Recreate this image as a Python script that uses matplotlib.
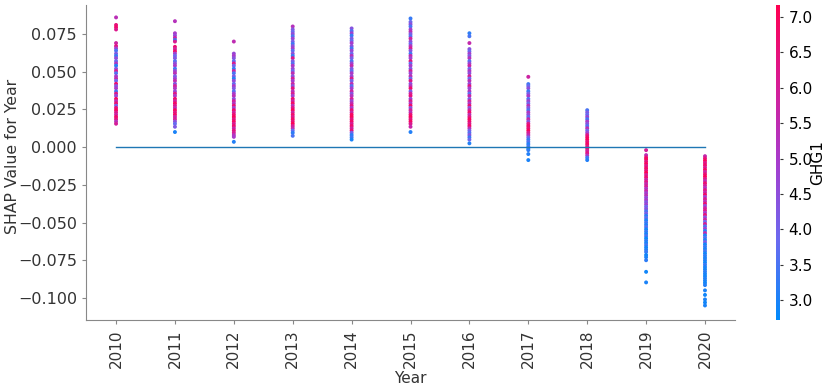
import matplotlib
matplotlib.use("Agg")
import matplotlib.pyplot as plt
from matplotlib.colors import LinearSegmentedColormap

# year, SHAP value and GHG1 value of each point
shap_2010 = [0.086, 0.081, 0.0795, 0.078, 0.069, 0.067, 0.0655, 0.064, 0.062, 0.0605, 0.059, 0.057, 0.0555, 0.054, 0.052,
             0.0505, 0.049, 0.047, 0.0455, 0.044, 0.042, 0.0405, 0.039, 0.037, 0.0355, 0.034, 0.032, 0.0305, 0.029,
             0.0275, 0.026, 0.0245, 0.023, 0.0215, 0.020, 0.0185, 0.017, 0.0155]
ghg_2010 = [5.4, 6.5, 6.8, 6.2, 5.8, 6.4, 4.9, 3.5, 4.2, 3.3, 4.6, 3.8, 5.2, 3.1, 4.4,
            6.1, 3.6, 4.9, 5.6, 3.9, 6.6, 4.3, 5.1, 3.4, 6.3, 4.7, 6.9, 5.5, 6.7,
            4.1, 6.5, 7.0, 6.2, 5.8, 6.8, 6.4, 5.3, 6.0]

shap_2011 = [0.0835, 0.0755, 0.074, 0.0725, 0.071, 0.070, 0.0665, 0.065, 0.0635, 0.062, 0.0605, 0.059, 0.057, 0.0555,
             0.054, 0.052, 0.0505, 0.049, 0.047, 0.0455, 0.044, 0.042, 0.0405, 0.039, 0.037, 0.0355, 0.034, 0.032,
             0.0305, 0.029, 0.0275, 0.026, 0.0245, 0.023, 0.0215, 0.020, 0.0185, 0.017, 0.0155, 0.0135, 0.010]
ghg_2011 = [5.3, 5.0, 4.6, 5.7, 3.2, 6.1, 6.6, 5.9, 6.8, 4.8, 3.9, 4.3, 3.6, 4.5,
            5.0, 3.4, 4.7, 5.4, 4.1, 4.8, 5.6, 4.4, 6.0, 5.2, 4.6, 6.3, 5.1, 6.7,
            5.9, 6.9, 6.2, 5.5, 7.0, 6.4, 6.8, 5.7, 6.1, 4.5, 3.8, 4.2, 3.0]

shap_2012 = [0.070, 0.062, 0.0605, 0.059, 0.057, 0.0555, 0.054, 0.052, 0.0505, 0.049, 0.047, 0.0455, 0.044, 0.042,
             0.0405, 0.039, 0.037, 0.0355, 0.034, 0.032, 0.0305, 0.029, 0.0275, 0.026, 0.0245, 0.023, 0.0215, 0.020,
             0.0185, 0.017, 0.0155, 0.014, 0.0125, 0.011, 0.0095, 0.008, 0.0068, 0.0035]
ghg_2012 = [5.5, 4.7, 5.0, 4.4, 3.7, 6.2, 4.0, 3.3, 5.8, 3.5, 4.2, 3.1, 4.6, 3.8,
            5.1, 4.3, 3.6, 4.9, 5.4, 4.5, 6.0, 5.2, 6.5, 4.8, 6.8, 5.9, 6.6, 7.0,
            6.3, 6.9, 6.1, 6.7, 5.7, 6.4, 6.0, 5.3, 5.0, 3.1]

shap_2013 = [0.080, 0.078, 0.0765, 0.075, 0.0735, 0.072, 0.070, 0.0685, 0.067, 0.0655, 0.064, 0.062, 0.0605, 0.059,
             0.057, 0.0555, 0.054, 0.052, 0.0505, 0.049, 0.047, 0.0455, 0.044, 0.042, 0.0405, 0.039, 0.037, 0.0355,
             0.034, 0.032, 0.0305, 0.029, 0.0275, 0.026, 0.0245, 0.023, 0.0215, 0.020, 0.0185, 0.017, 0.0155, 0.014,
             0.0125, 0.011, 0.0095, 0.0075]
ghg_2013 = [5.3, 4.3, 3.9, 4.6, 3.5, 4.8, 4.1, 3.4, 4.4, 5.0, 3.7, 4.5, 3.3, 6.2,
            4.2, 3.6, 5.1, 4.7, 3.9, 5.5, 4.3, 6.0, 4.9, 5.7, 4.4, 6.4, 5.3, 6.1,
            4.8, 6.6, 5.8, 6.9, 5.4, 6.3, 7.0, 5.9, 6.7, 6.2, 6.8, 6.5, 7.1, 6.0,
            5.6, 3.8, 3.2, 3.5]

shap_2014 = [0.0787, 0.077, 0.0755, 0.074, 0.072, 0.0705, 0.069, 0.067, 0.0655, 0.064, 0.062, 0.0605, 0.059, 0.057,
             0.0555, 0.054, 0.052, 0.0505, 0.049, 0.047, 0.0455, 0.044, 0.042, 0.0405, 0.039, 0.037, 0.0355, 0.034,
             0.032, 0.0305, 0.029, 0.0275, 0.026, 0.0245, 0.023, 0.0215, 0.020, 0.0185, 0.017, 0.0155, 0.014, 0.0125,
             0.011, 0.0095, 0.008, 0.0065, 0.005]
ghg_2014 = [4.4, 3.6, 4.9, 3.3, 4.2, 3.8, 5.0, 4.5, 3.4, 4.7, 3.9, 5.3, 4.1, 3.5,
            4.8, 5.6, 4.3, 3.7, 5.1, 4.6, 6.2, 4.0, 5.4, 3.6, 4.9, 5.8, 4.4, 5.2,
            6.0, 4.7, 5.5, 6.3, 5.0, 6.6, 5.7, 6.9, 7.0, 6.4, 6.8, 6.1, 6.7, 5.9,
            6.5, 4.0, 3.2, 3.4, 3.0]

shap_2015 = [0.0853, 0.083, 0.0815, 0.080, 0.078, 0.0765, 0.075, 0.0735, 0.072, 0.070, 0.0685, 0.067, 0.0655, 0.064,
             0.062, 0.0605, 0.059, 0.057, 0.0555, 0.054, 0.052, 0.0505, 0.049, 0.047, 0.0455, 0.044, 0.042, 0.0405,
             0.039, 0.037, 0.0355, 0.034, 0.032, 0.0305, 0.029, 0.0275, 0.026, 0.0245, 0.023, 0.0215, 0.020, 0.0185,
             0.017, 0.0155, 0.0135, 0.010]
ghg_2015 = [3.3, 3.9, 4.5, 3.5, 4.9, 5.4, 4.2, 3.6, 5.8, 4.6, 3.8, 5.2, 6.1, 4.4,
            3.4, 5.6, 4.8, 6.4, 3.7, 5.0, 4.3, 6.0, 4.7, 5.5, 3.9, 6.3, 4.5, 5.3,
            6.7, 4.1, 5.9, 6.5, 4.8, 6.2, 5.1, 6.8, 4.4, 6.0, 5.4, 6.6, 7.0, 6.4,
            6.9, 6.2, 5.7, 3.1]

shap_2016 = [0.0755, 0.0735, 0.069, 0.065, 0.0635, 0.062, 0.0605, 0.059, 0.057, 0.0555, 0.054, 0.052, 0.0505, 0.049,
             0.047, 0.0455, 0.044, 0.042, 0.0405, 0.039, 0.037, 0.0355, 0.034, 0.032, 0.0305, 0.029, 0.0275, 0.026,
             0.0245, 0.023, 0.0215, 0.020, 0.0185, 0.017, 0.0155, 0.014, 0.0125, 0.011, 0.0095, 0.008, 0.0065, 0.005,
             0.0025]
ghg_2016 = [3.2, 3.5, 5.6, 4.4, 3.8, 4.9, 4.2, 5.3, 3.6, 4.7, 5.8, 4.0, 5.1, 4.5,
            6.1, 3.9, 5.4, 4.6, 6.4, 4.8, 5.2, 3.7, 5.7, 4.3, 6.0, 5.0, 6.6, 4.5,
            5.9, 6.8, 5.5, 6.3, 7.0, 6.7, 6.2, 6.9, 5.4, 4.1, 3.6, 4.4, 3.3, 3.9,
            3.1]

shap_2017 = [0.0466, 0.0418, 0.0405, 0.039, 0.037, 0.0355, 0.034, 0.032, 0.0305, 0.029, 0.0275, 0.026, 0.0245, 0.023,
             0.0215, 0.020, 0.0185, 0.017, 0.0155, 0.014, 0.0125, 0.011, 0.0095, 0.008, 0.0065, 0.005, 0.0035, 0.002,
             0.0005, -0.001, -0.002, -0.0046, -0.0086]
ghg_2017 = [5.8, 3.4, 3.8, 4.5, 3.3, 4.1, 5.0, 3.6, 4.8, 3.9, 5.4, 4.3, 3.5, 5.2,
            4.6, 3.7, 5.7, 4.4, 6.3, 6.8, 6.5, 7.0, 6.1, 5.5, 4.0, 3.3, 3.6, 3.1,
            3.4, 3.0, 3.2, 3.1, 3.0]

shap_2018 = [0.0245, 0.023, 0.0215, 0.020, 0.0185, 0.017, 0.0155, 0.014, 0.0125, 0.011, 0.0095, 0.008, 0.0065, 0.005,
             0.0035, 0.002, 0.0005, -0.001, -0.0025, -0.004, -0.0055, -0.007, -0.0086]
ghg_2018 = [3.5, 4.2, 3.8, 4.7, 3.4, 5.1, 4.4, 3.6, 5.5, 4.0, 4.8, 6.2, 6.8, 7.0,
            6.5, 6.9, 6.3, 6.7, 5.9, 6.4, 5.2, 3.4, 3.1]

shap_2019 = [-0.002, -0.0053, -0.0068, -0.008, -0.0095, -0.011, -0.0125, -0.014, -0.0155, -0.017, -0.0185, -0.020,
             -0.0215, -0.023, -0.0245, -0.026, -0.0275, -0.029, -0.0305, -0.032, -0.0335, -0.035, -0.0365, -0.038,
             -0.0395, -0.041, -0.0425, -0.044, -0.0455, -0.047, -0.0485, -0.050, -0.0515, -0.053, -0.0545, -0.056,
             -0.0575, -0.059, -0.0605, -0.062, -0.0635, -0.065, -0.0665, -0.068, -0.0695, -0.0715, -0.073, -0.075,
             -0.0827, -0.0897]
ghg_2019 = [6.0, 5.4, 6.6, 7.0, 6.4, 6.9, 6.2, 6.8, 6.5, 7.1, 6.0, 6.7,
            5.8, 6.3, 5.6, 6.1, 5.2, 5.7, 4.9, 5.4, 4.6, 5.0, 4.3, 4.8,
            3.9, 4.4, 3.5, 4.1, 3.2, 3.7, 3.0, 3.4, 3.1, 3.6, 2.9, 3.3,
            3.0, 3.5, 2.8, 3.2, 3.0, 3.4, 2.9, 3.1, 3.3, 2.9, 3.0, 3.2,
            2.9, 3.0]

shap_2020 = [-0.006, -0.0075, -0.009, -0.0105, -0.012, -0.0135, -0.015, -0.0165, -0.018, -0.0195, -0.021, -0.0225,
             -0.024, -0.0255, -0.027, -0.0285, -0.030, -0.0315, -0.033, -0.0345, -0.036, -0.0375, -0.039, -0.0405,
             -0.042, -0.0435, -0.045, -0.0465, -0.048, -0.0495, -0.051, -0.0525, -0.054, -0.0555, -0.057, -0.0585,
             -0.060, -0.0615, -0.063, -0.0645, -0.066, -0.0675, -0.069, -0.0705, -0.072, -0.0735, -0.075, -0.0765,
             -0.078, -0.0795, -0.081, -0.0825, -0.084, -0.0855, -0.087, -0.0885, -0.090, -0.0915, -0.095, -0.098,
             -0.101, -0.103, -0.105]
ghg_2020 = [5.6, 6.5, 7.0, 6.3, 6.8, 6.1, 6.9, 5.8, 6.6, 7.1, 6.2, 5.5,
            6.7, 6.0, 5.2, 6.4, 5.7, 6.8, 4.9, 6.2, 5.4, 6.6, 4.6, 5.9,
            6.3, 5.0, 6.5, 4.4, 5.8, 3.9, 6.1, 3.5, 4.8, 3.2, 5.6, 3.0,
            3.6, 3.1, 4.2, 2.9, 3.3, 3.0, 3.4, 2.9, 3.2, 3.0, 3.1, 2.9,
            3.3, 3.0, 2.9, 3.2, 3.0, 2.9, 3.1, 3.0, 2.9, 3.1, 3.0, 2.9,
            3.0, 2.9, 3.0]

years = [2010, 2011, 2012, 2013, 2014, 2015, 2016, 2017, 2018, 2019, 2020]
shap_by_year = [shap_2010, shap_2011, shap_2012, shap_2013, shap_2014, shap_2015,
                shap_2016, shap_2017, shap_2018, shap_2019, shap_2020]
ghg_by_year = [ghg_2010, ghg_2011, ghg_2012, ghg_2013, ghg_2014, ghg_2015,
               ghg_2016, ghg_2017, ghg_2018, ghg_2019, ghg_2020]

xs, ys, cs = [], [], []
for yr, sv, gv in zip(years, shap_by_year, ghg_by_year):
    xs += [yr] * len(sv)
    ys += sv
    cs += gv

red_blue = LinearSegmentedColormap.from_list(
    "red_blue", ["#008bfb", "#6a6af0", "#a63ccd", "#d71c95", "#ff0052"])
axis_color = "#333333"

fig = plt.figure(figsize=(8.31, 3.88), dpi=100)
ax = fig.add_axes([0.1035, 0.175, 0.781, 0.812])
cax = fig.add_axes([0.934, 0.175, 0.005, 0.812])

p = ax.scatter(xs, ys, c=cs, cmap=red_blue, vmin=2.72, vmax=7.17, s=8, linewidth=0, rasterized=True)
ax.plot([min(years), max(years)], [0, 0], color="#1f77b4", lw=1)

ax.set_xlim(2009.49, 2020.51)
ax.set_ylim(-0.1147, 0.0942)
ax.set_xticks(years)
ax.set_xticklabels([str(y) for y in years], rotation=90)
ax.set_yticks([-0.100, -0.075, -0.050, -0.025, 0.000, 0.025, 0.050, 0.075])
ax.set_yticklabels(["\u22120.100", "\u22120.075", "\u22120.050", "\u22120.025",
                    "0.000", "0.025", "0.050", "0.075"])
ax.set_xlabel("Year", fontsize=11, color=axis_color, labelpad=2)
ax.set_ylabel("SHAP Value for Year", fontsize=11.3, color=axis_color)
ax.yaxis.set_label_coords(-0.102, 0.52)
ax.spines["top"].set_visible(False)
ax.spines["right"].set_visible(False)
ax.spines["left"].set_color("#888888")
ax.spines["bottom"].set_color("#888888")
ax.tick_params(axis="x", labelsize=11, length=3, color="#888888", labelcolor=axis_color)
ax.tick_params(axis="y", labelsize=11.5, length=3, color="#888888", labelcolor=axis_color)

cb = fig.colorbar(p, cax=cax)
cb.outline.set_visible(False)
cb.set_ticks([3.0, 3.5, 4.0, 4.5, 5.0, 5.5, 6.0, 6.5, 7.0])
cb.ax.tick_params(labelsize=11, length=2.5, color=axis_color, labelcolor="black")
cb.set_label("GHG1", fontsize=11, labelpad=-2)

fig.savefig("out.png", dpi=100)
